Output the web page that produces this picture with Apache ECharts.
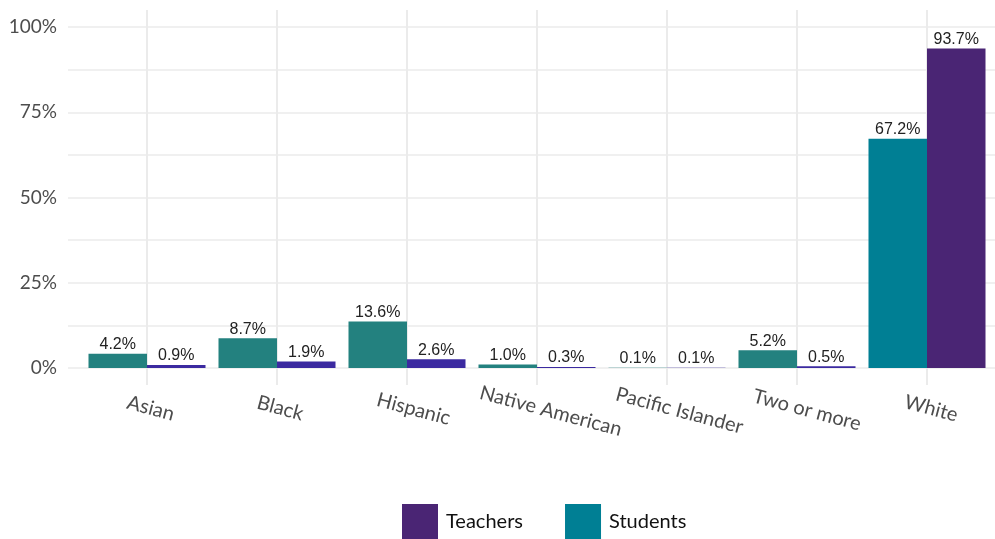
<!DOCTYPE html>
<html>
<head>
<meta charset="utf-8">
<script src="https://cdn.jsdelivr.net/npm/echarts@6/dist/echarts.min.js"></script>
<style>html,body{margin:0;padding:0;background:#fff}#c{width:995px;height:539px}</style>
</head>
<body>
<div id="c"></div>
<script>
const categories = ['Asian', 'Black', 'Hispanic', 'Native American', 'Pacific Islander', 'Two or more', 'White'];
const students = [4.2, 8.7, 13.6, 1.0, 0.1, 5.2, 67.2];
const teachers = [0.9, 1.9, 2.6, 0.3, 0.1, 0.5, 93.7];
const yTicks = [0, 25, 50, 75, 100];

const studentColors = ['#23817f', '#23817f', '#23817f', '#23817f', '#23817f', '#23817f', '#007f94'];
const teacherColors = ['#3b2aa0', '#3b2aa0', '#3b2aa0', '#3b2aa0', '#3b2aa0', '#3b2aa0', '#4a2574'];

const xFont = {fontFamily: 'Lato', fontSize: 20, color: '#4d4d4d'};
// per-label left padding so the rotated label sits slightly right of the tick (like ggplot's hjust)
const ctx = document.createElement('canvas').getContext('2d');
ctx.font = '20px Lato';
const rich = {};
categories.forEach((c, i) => {
  const w = ctx.measureText(c).width;
  rich['c' + i] = Object.assign({padding: [0, 0, 0, Math.round(0.22 * w + 2)]}, xFont);
});

const chart = echarts.init(document.getElementById('c'));
const gridColor = '#ebebeb';
const labelStyle = {
  show: true, position: 'top', distance: 1,
  fontFamily: 'Liberation Sans', fontSize: 16, color: '#222',
  formatter: p => p.value.toFixed(1) + '%'
};
chart.setOption({
  animation: false,
  backgroundColor: '#fff',
  grid: [
    {left: 82, right: 3, top: 27, bottom: 171},   // bars
    {left: 147, right: 68, top: 10, bottom: 154},  // vertical gridlines
    {left: 68, right: 0, top: 27, bottom: 171}     // horizontal gridlines + y labels
  ],
  xAxis: [
    {gridIndex: 0, type: 'category', data: categories, boundaryGap: true,
     axisLine: {show: false}, axisTick: {show: false}, splitLine: {show: false},
     axisLabel: Object.assign({rotate: -15, align: 'center', verticalAlign: 'top', margin: 29,
       interval: 0, rich: rich,
       formatter: (v, i) => '{c' + i + '|' + v + '}'}, xFont)},
    {gridIndex: 1, type: 'category', data: categories, boundaryGap: false,
     axisLine: {show: false}, axisTick: {show: false}, axisLabel: {show: false},
     splitLine: {show: true, interval: 0, lineStyle: {color: gridColor, width: 2}}},
    {gridIndex: 2, type: 'value', min: 0, max: 1, show: false}
  ],
  yAxis: [
    {gridIndex: 0, type: 'value', min: 0, max: 100, show: false},
    {gridIndex: 1, type: 'value', min: 0, max: 1, show: false},
    {gridIndex: 2, type: 'value', min: 0, max: 100, interval: 12.5,
     axisLine: {show: false}, axisTick: {show: false},
     splitLine: {show: true, lineStyle: {color: gridColor, width: 1.6}},
     axisLabel: {margin: 11, fontFamily: 'Lato', fontSize: 19, color: '#4d4d4d',
       formatter: v => yTicks.includes(v) ? v + '%' : ''}}
  ],
  legend: {
    data: ['Teachers', 'Students'],
    top: 499, left: 397,
    icon: 'rect', itemWidth: 36, itemHeight: 36, itemGap: 42,
    textStyle: {fontFamily: 'Lato', fontSize: 20, color: '#111', padding: [0, 0, 0, 3]}
  },
  series: [
    {name: 'Students', type: 'bar', xAxisIndex: 0, yAxisIndex: 0,
     data: students.map((v, i) => ({value: v, itemStyle: {color: studentColors[i]}})),
     itemStyle: {color: '#007f94'},
     barCategoryGap: '10%', barGap: '0%', label: labelStyle},
    {name: 'Teachers', type: 'bar', xAxisIndex: 0, yAxisIndex: 0,
     data: teachers.map((v, i) => ({value: v, itemStyle: {color: teacherColors[i]}})),
     itemStyle: {color: '#4a2574'},
     barCategoryGap: '10%', barGap: '0%', label: labelStyle}
  ]
});
</script>
</body>
</html>
